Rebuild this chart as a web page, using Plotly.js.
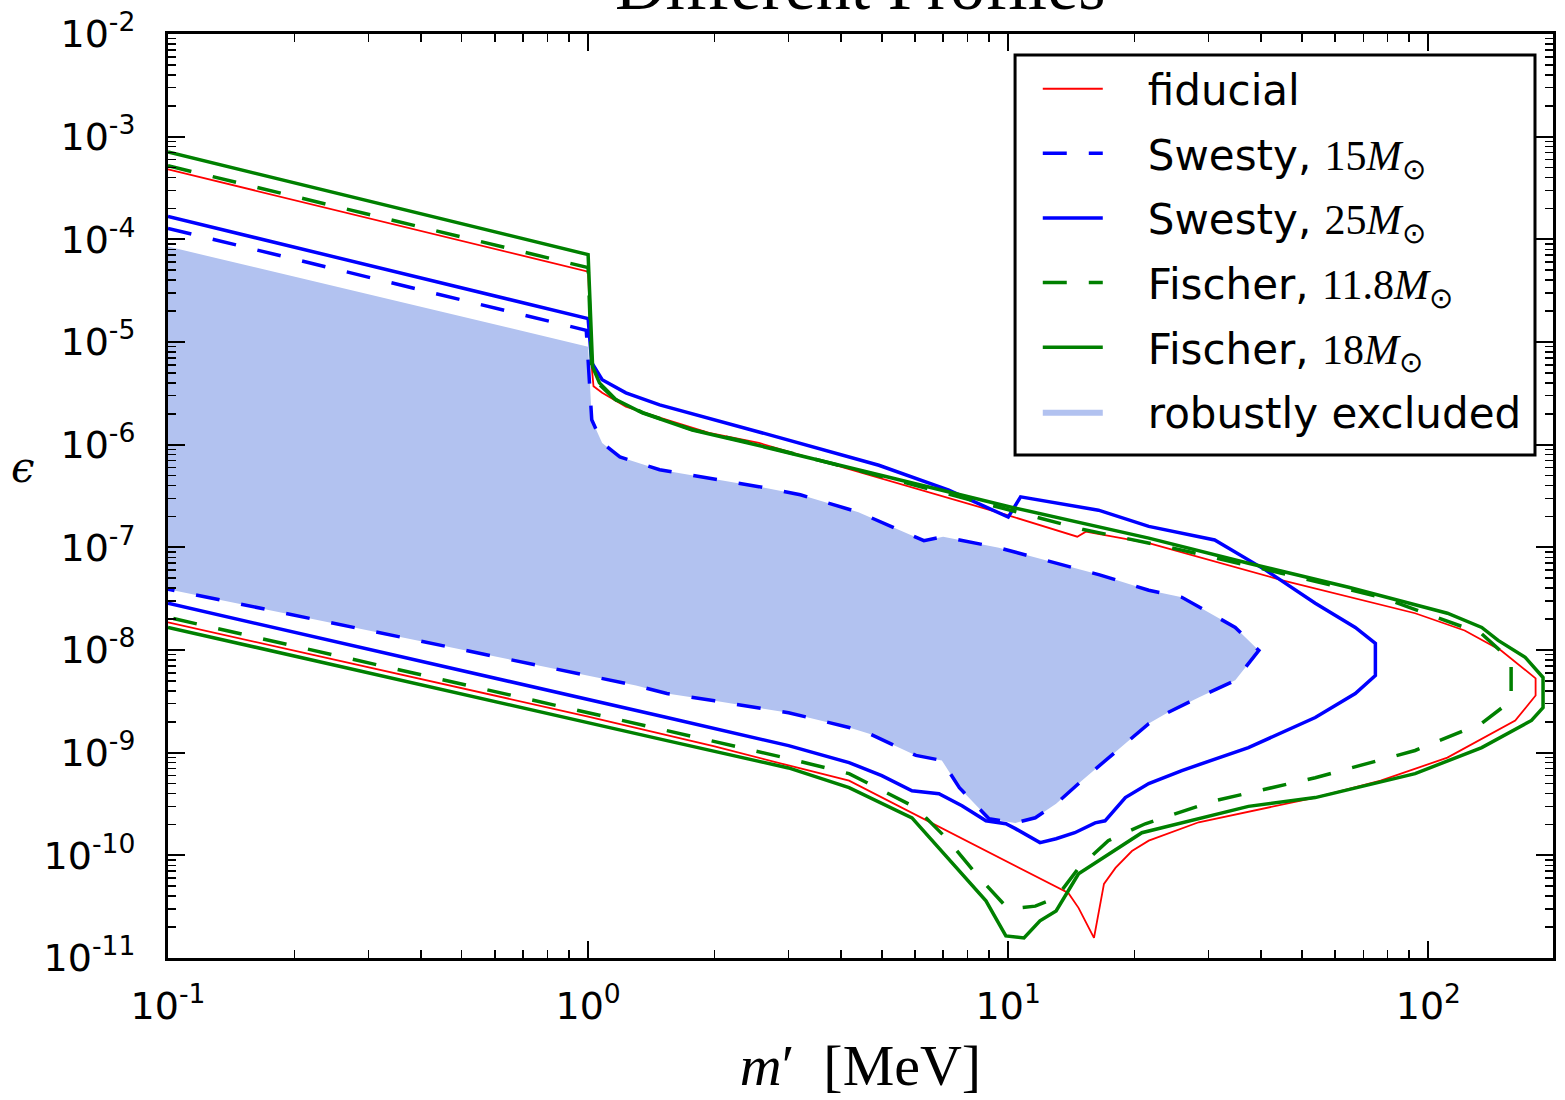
<!DOCTYPE html>
<html>
<head>
<meta charset="utf-8">
<script src="https://cdn.plot.ly/plotly-3.0.1.min.js"></script>
<style>
  html, body { margin: 0; padding: 0; background: #fff; }
  #chart { width: 1565px; height: 1100px; }
</style>
</head>
<body>
<div id="chart"></div>
<script>
// Supernova cooling bounds on a dark photon: mass m' [MeV] vs kinetic mixing epsilon.
// Each contour runs along the upper branch, round the high-mass tip, and back along the lower branch.

const fiducialX = [0.1, 1.0, 1.02, 1.03, 1.08, 1.23, 1.48, 1.94, 2.55, 5, 10, 14.6, 15.3, 21.6, 44.7, 93, 122, 149, 180, 180, 161, 111, 77, 53.8, 28.4, 21.6, 19.7, 18.0, 16.9, 16.0, 14.7, 13.9, 4.18, 3, 2, 1, 0.1];
const fiducialY = [4.8e-4, 4.85e-5, 5.7e-6, 3.7e-6, 3.2e-6, 2.34e-6, 1.83e-6, 1.3e-6, 1.04e-6, 4.7e-7, 2.05e-7, 1.27e-7, 1.42e-7, 1.10e-7, 4.8e-8, 2.28e-8, 1.55e-8, 9.9e-9, 5.3e-9, 3.6e-9, 2.05e-9, 8.95e-10, 5.33e-10, 3.65e-10, 2.1e-10, 1.39e-10, 1.1e-10, 7.55e-11, 5.27e-11, 1.57e-11, 3.08e-11, 4.3e-11, 5.33e-10, 7.5e-10, 1.15e-9, 2.25e-9, 1.86e-8];

const swesty15X = [0.1, 0.99, 1.02, 1.08, 1.19, 1.48, 2.55, 3.2, 4.4, 6.3, 7.0, 9.5, 16.5, 21.6, 25.9, 34.7, 39.5, 34.7, 28.4, 23.7, 21.6, 17.3, 14.96, 13.0, 11.6, 10.4, 9.0, 7.65, 6.95, 6.03, 4.67, 4.18, 3, 2, 1.54, 1.3, 1.05, 0.1];
const swesty15Y = [1.28e-4, 1.3e-5, 1.75e-6, 1.04e-6, 7.6e-7, 5.7e-7, 3.9e-7, 3.25e-7, 2.2e-7, 1.16e-7, 1.27e-7, 9.9e-8, 5.4e-8, 3.82e-8, 3.26e-8, 1.66e-8, 9.9e-9, 5.06e-9, 3.45e-9, 2.4e-9, 1.92e-9, 8.95e-10, 5.33e-10, 3.18e-10, 2.32e-10, 2.07e-10, 2.27e-10, 4.56e-10, 8.4e-10, 9.4e-10, 1.53e-9, 1.76e-9, 2.45e-9, 3.2e-9, 3.77e-9, 4.5e-9, 5.4e-9, 3.91e-8];

const swesty25X = [0.1, 1.0, 1.02, 1.08, 1.23, 1.48, 2.55, 4.92, 7.22, 10, 10.7, 16.4, 21.6, 31, 41, 53.8, 67, 74.8, 74.8, 67, 53.8, 37.3, 25.9, 21.6, 19.0, 17.0, 16.1, 14.4, 13.0, 11.9, 10.4, 9.87, 8.85, 7.76, 6.84, 5.9, 5.0, 4.18, 3, 2, 1.54, 0.1];
const swesty25Y = [1.67e-4, 1.69e-5, 6.3e-6, 4.29e-6, 3.2e-6, 2.44e-6, 1.33e-6, 6.3e-7, 3.6e-7, 1.97e-7, 3.1e-7, 2.3e-7, 1.6e-7, 1.18e-7, 6.0e-8, 2.85e-8, 1.66e-8, 1.16e-8, 5.65e-9, 3.77e-9, 2.2e-9, 1.12e-9, 6.7e-10, 5.0e-10, 3.65e-10, 2.17e-10, 2.07e-10, 1.66e-10, 1.45e-10, 1.33e-10, 1.82e-10, 2.03e-10, 2.17e-10, 3.04e-10, 3.98e-10, 4.26e-10, 5.97e-10, 8.0e-10, 1.17e-9, 1.7e-9, 2.2e-9, 2.85e-8];

const fischer118X = [0.1, 1.0, 1.02, 1.06, 1.16, 1.35, 1.77, 2.55, 5, 10, 15, 25.9, 44.7, 77.3, 133.6, 157.4, 157.4, 133.6, 93, 53.8, 31, 21.2, 17.3, 14.7, 13.0, 11.6, 10, 8.38, 7.11, 6.03, 4.18, 3, 1.54, 0.1];
const fischer118Y = [5.2e-4, 5.3e-5, 5.7e-6, 3.9e-6, 2.75e-6, 2.05e-6, 1.4e-6, 1.0e-6, 4.9e-7, 2.3e-7, 1.5e-7, 9.4e-8, 5.6e-8, 3.26e-8, 1.45e-8, 7.9e-9, 3.2e-9, 1.92e-9, 1.05e-9, 5.7e-10, 3.4e-10, 2.03e-10, 1.39e-10, 7.5e-11, 3.85e-11, 3.2e-11, 3.0e-11, 6.6e-11, 1.48e-10, 2.91e-10, 6.25e-10, 8.75e-10, 1.64e-9, 2.08e-8];

const fischer18X = [0.1, 1.0, 1.025, 1.064, 1.167, 1.346, 1.77, 2.55, 5, 10, 21.6, 37.3, 64.6, 111, 134, 146.6, 170, 187.5, 187.5, 176, 134, 93, 53.8, 37.3, 20.8, 17.3, 14.7, 13.0, 11.9, 10.9, 9.87, 8.85, 6.95, 5.9, 4.18, 3, 1.54, 0.1];
const fischer18Y = [7.1e-4, 7.1e-5, 5.74e-6, 4.0e-6, 2.73e-6, 2.04e-6, 1.39e-6, 9.8e-7, 5.0e-7, 2.5e-7, 1.23e-7, 7.0e-8, 4.08e-8, 2.28e-8, 1.66e-8, 1.24e-8, 8.5e-9, 5.4e-9, 2.75e-9, 2.06e-9, 1.12e-9, 6.25e-10, 3.65e-10, 3.0e-10, 1.66e-10, 1.03e-10, 6.6e-11, 2.87e-11, 2.3e-11, 1.57e-11, 1.64e-11, 3.6e-11, 1.1e-10, 2.32e-10, 4.56e-10, 7.1e-10, 1.31e-9, 1.66e-8];

// Robustly excluded region: its own upper edge below 1 MeV, then the Swesty 15 contour
const robustEdgeX = [0.1, 1.0];
const robustEdgeY = [8.5e-5, 9.0e-6];

const yTickVals = [1e-2, 1e-3, 1e-4, 1e-5, 1e-6, 1e-7, 1e-8, 1e-9, 1e-10, 1e-11];
const yTickText = ['10<sup>-2</sup>', '10<sup>-3</sup>', '10<sup>-4</sup>', '10<sup>-5</sup>', '10<sup>-6</sup>', '10<sup>-7</sup>', '10<sup>-8</sup>', '10<sup>-9</sup>', '10<sup>-10</sup>', '10<sup>-11</sup>'];
const xTickVals = [0.1, 1, 10, 100];
const xTickText = ['10<sup>-1</sup>', '10<sup>0</sup>', '10<sup>1</sup>', '10<sup>2</sup>'];

const SANS = 'DejaVu Sans, sans-serif';
const SERIF = 'Liberation Serif, DejaVu Serif, serif';
const GAP = '\u00a0\u00a0\u00a0';
const math = s => `<span style="font-family:'Liberation Serif'">${s}<i>M</i><sub>⊙</sub></span>`;

const robustX = robustEdgeX.concat(swesty15X.slice(2));
const robustY = robustEdgeY.concat(swesty15Y.slice(2));

const traces = [
  { x: robustX, y: robustY, mode: 'lines', fill: 'toself', fillcolor: '#b2c2f0',
    line: { width: 0, color: '#b2c2f0' }, name: GAP + 'robustly excluded', legendgroup: 'g6', legendrank: 6 },
  { x: fiducialX, y: fiducialY, mode: 'lines', line: { color: '#ff0000', width: 1.8 },
    name: GAP + 'fiducial', legendgroup: 'g1', legendrank: 1 },
  { x: swesty15X, y: swesty15Y, mode: 'lines', line: { color: '#0000ff', width: 3.5, dash: '24px,22px' },
    name: GAP + 'Swesty, ' + math('15'), legendgroup: 'g2', legendrank: 2 },
  { x: swesty25X, y: swesty25Y, mode: 'lines', line: { color: '#0000ff', width: 3.5 },
    name: GAP + 'Swesty, ' + math('25'), legendgroup: 'g3', legendrank: 3 },
  { x: fischer118X, y: fischer118Y, mode: 'lines', line: { color: '#008000', width: 3.5, dash: '24px,22px' },
    name: GAP + 'Fischer, ' + math('11.8'), legendgroup: 'g4', legendrank: 4 },
  { x: fischer18X, y: fischer18Y, mode: 'lines', line: { color: '#008000', width: 3.5 },
    name: GAP + 'Fischer, ' + math('18'), legendgroup: 'g5', legendrank: 5 }
];

const axisCommon = {
  type: 'log', showgrid: false, zeroline: false,
  showline: true, linecolor: '#000', linewidth: 3, mirror: 'allticks',
  ticks: 'inside', ticklen: 17, tickwidth: 2, tickcolor: '#000',
  tickfont: { family: SANS, size: 38, color: '#000' },
  minor: { ticks: 'inside', ticklen: 8, tickwidth: 1.5, tickcolor: '#000', dtick: 'D1', showgrid: false }
};

const layout = {
  width: 1565, height: 1100,
  margin: { l: 168, r: 12, t: 34, b: 142 },
  paper_bgcolor: '#fff', plot_bgcolor: '#fff',
  showlegend: true,
  xaxis: Object.assign({}, axisCommon, {
    range: [-1, 2.2967], tickvals: xTickVals, ticktext: xTickText, ticklabelstandoff: 12,
    title: { text: '<i>m</i>′  [MeV]', font: { family: SERIF, size: 58, color: '#000' }, standoff: 18 }
  }),
  yaxis: Object.assign({}, axisCommon, {
    range: [-11, -2], tickvals: yTickVals, ticktext: yTickText, ticklabelstandoff: 22
  }),
  legend: {
    x: 0.628, xanchor: 'left', y: 0.9773, yanchor: 'top',
    bgcolor: 'rgba(0,0,0,0)', borderwidth: 0,
    font: { family: SANS, size: 42, color: '#000' },
    traceorder: 'grouped', tracegroupgap: 7, itemwidth: 60
  },
  shapes: [
    // legend frame
    { type: 'rect', xref: 'paper', yref: 'paper', x0: 0.6116, x1: 0.987, y0: 0.5444, y1: 0.9773,
      line: { color: '#000', width: 3 }, fillcolor: '#fff', layer: 'above' }
  ],
  annotations: [
    { text: 'Different Profiles', xref: 'paper', yref: 'paper', x: 0.5, y: 1, xanchor: 'center', yanchor: 'bottom',
      yshift: 8, showarrow: false, font: { family: SERIF, size: 70, color: '#000' } },
    { text: '<i>ϵ</i>', xref: 'paper', yref: 'paper', x: -0.105, y: 0.531, xanchor: 'center', yanchor: 'middle',
      showarrow: false, font: { family: 'DejaVu Serif, serif', size: 42, color: '#000' } }
  ]
};

Plotly.newPlot('chart', traces, layout, { displayModeBar: false, staticPlot: true });
</script>
</body>
</html>
